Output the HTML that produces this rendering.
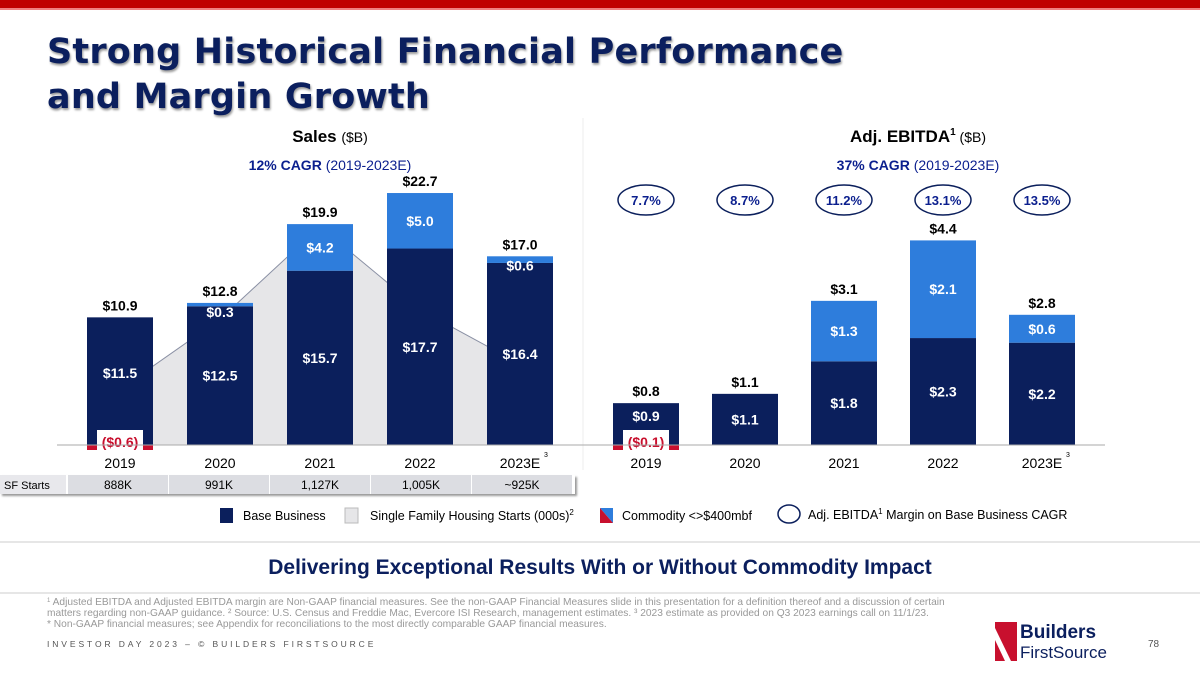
<!DOCTYPE html>
<html><head><meta charset="utf-8"><style>
body{margin:0;width:1200px;height:675px;overflow:hidden;background:#fff;font-family:"Liberation Sans",Arial,sans-serif;position:relative}
.t{position:absolute}
</style></head><body>
<div class="t" style="left:0;top:0;width:1200px;height:8px;background:#c00000;border-bottom:2px solid #f08080"></div>
<div class="t" style="left:47px;top:30px;font-family:'DejaVu Sans',sans-serif;font-size:35px;font-weight:bold;color:#0b1f5e;line-height:45px;text-shadow:1px 2px 2px #999;letter-spacing:0.2px">Strong Historical Financial Performance<br>and Margin Growth</div>
<svg class="t" style="left:0;top:0" width="1200" height="675" id="c">
<line x1="583" y1="118" x2="583" y2="470" stroke="#eee"/>
<text x="330" y="142" text-anchor="middle" font-size="17" font-weight="bold">Sales <tspan font-weight="normal" font-size="14">($B)</tspan></text>
<text x="330" y="170" text-anchor="middle" font-size="14" fill="#0b1f8e"><tspan font-weight="bold">12% CAGR</tspan> (2019-2023E)</text>
<text x="918" y="142" text-anchor="middle" font-size="17" font-weight="bold">Adj. EBITDA<tspan font-size="10" dy="-7">1</tspan><tspan dy="7" font-weight="normal" font-size="14"> ($B)</tspan></text>
<text x="918" y="170" text-anchor="middle" font-size="14" fill="#0b1f8e"><tspan font-weight="bold">37% CAGR</tspan> (2019-2023E)</text>
<g id="left"></g><g id="right"></g>
<line x1="0" y1="542" x2="1200" y2="542" stroke="#ccc"/>
<line x1="0" y1="593" x2="1200" y2="593" stroke="#ccc"/>
<g font-size="12.5">
<rect x="220" y="508" width="13" height="15" fill="#0b1f5c"/><text x="243" y="520">Base Business</text>
<rect x="345" y="508" width="13" height="15" fill="#e6e6e8" stroke="#bbb"/><text x="370" y="520">Single Family Housing Starts (000s)<tspan font-size="8" dy="-5">2</tspan></text>
<polygon points="600,508 613,508 613,523" fill="#2e7ddc"/><polygon points="600,508 613,523 600,523" fill="#c8102e"/><text x="622" y="520">Commodity &lt;&gt;$400mbf</text>
<ellipse cx="789" cy="514" rx="11" ry="9" fill="none" stroke="#0b1f5c" stroke-width="1.5"/><text x="808" y="519">Adj. EBITDA<tspan font-size="8" dy="-5">1</tspan><tspan dy="5"> Margin on Base Business CAGR</tspan></text>
</g>
<text x="600" y="574" text-anchor="middle" font-size="21" font-weight="bold" fill="#0b1f5e">Delivering Exceptional Results With or Without Commodity Impact</text>
<g font-size="10.2" fill="#999">
<text x="47" y="605"><tspan font-size="6" dy="-3">1</tspan><tspan dy="3"> Adjusted EBITDA and Adjusted EBITDA margin are Non-GAAP financial measures. See the non-GAAP Financial Measures slide in this presentation for a definition thereof and a discussion of certain</tspan></text>
<text x="47" y="616">matters regarding non-GAAP guidance. ² Source: U.S. Census and Freddie Mac, Evercore ISI Research, management estimates. ³ 2023 estimate as provided on Q3 2023 earnings call on 11/1/23.</text>
<text x="47" y="627">* Non-GAAP financial measures; see Appendix for reconciliations to the most directly comparable GAAP financial measures.</text>
</g>
<text x="47" y="647" font-size="8.5" fill="#555" letter-spacing="2.9">INVESTOR DAY 2023 – © BUILDERS FIRSTSOURCE</text>
<g>
<polygon points="995,622 1017,622 1017,661 995,661" fill="#c8102e"/><polygon points="995,628 1011,661 1005,661 995,640" fill="#fff"/>
<text x="1020" y="638" font-size="19" font-weight="bold" fill="#0b1f5e">Builders</text>
<text x="1020" y="658" font-size="17" fill="#0b1f5e">FirstSource</text>
</g>
<text x="1148" y="647" font-size="10" fill="#555">78</text>
</svg>
<div class="t" style="left:0;top:475px;width:575px;height:19px;box-shadow:2px 2px 2px #999"></div>
<script>
const years=["2019","2020","2021","2022","2023E"];
const salesBase=[11.5,12.5,15.7,17.7,16.4];
const salesComm=[-0.6,0.3,4.2,5.0,0.6];
const salesTotal=["$10.9","$12.8","$19.9","$22.7","$17.0"];
const sfStarts=[888,991,1127,1005,925];
const sfLabels=["888K","991K","1,127K","1,005K","~925K"];
const ebitdaBase=[0.9,1.1,1.8,2.3,2.2];
const ebitdaComm=[-0.1,0,1.3,2.1,0.6];
const ebitdaTotal=["$0.8","$1.1","$3.1","$4.4","$2.8"];
const margins=["7.7%","8.7%","11.2%","13.1%","13.5%"];
const NS="http://www.w3.org/2000/svg";
function mk(p,t,a,txt){const e=document.createElementNS(NS,t);for(const k in a)e.setAttribute(k,a[k]);if(txt!==undefined)e.textContent=txt;p.appendChild(e);return e;}
const fmt=v=>v<0?"($"+(-v).toFixed(1)+")":"$"+v.toFixed(1);
const BL=445;
const L=document.getElementById('left');
const lx=i=>87+i*100, ly=v=>BL-v*11.1, sy=v=>BL-(v-806)*0.68;
let pts=`${lx(0)+33},${BL} `+sfStarts.map((v,i)=>`${lx(i)+33},${sy(v)}`).join(' ')+` ${lx(4)+33},${BL}`;
let a=mk(L,'polygon',{points:pts,fill:'#e6e6e8'});


let ln=mk(L,'polyline',{points:sfStarts.map((v,i)=>`${lx(i)+33},${sy(v)}`).join(' '),fill:'none',stroke:'#8a90a4','stroke-width':1});


function chart(G,xf,yf,base,comm,tot,w,tag){
 base.forEach((b,i)=>{
  const x=xf(i),c=comm[i];
  let r=mk(G,'rect',{x:x,y:yf(b),width:w,height:BL-yf(b),fill:'#0b1f5c'});
  
  
  let top=yf(b);
  if(c>0){let r2=mk(G,'rect',{x:x,y:yf(b+c),width:w,height:yf(b)-yf(b+c),fill:'#2e7ddc'});
   
   top=yf(b+c);}
  if(c<0){let r3=mk(G,'rect',{x:x,y:BL,width:w,height:Math.max(5,yf(0)-yf(c)),fill:'#c8102e'});
   
   
   mk(G,'rect',{x:x+10,y:BL-15,width:w-20,height:22,fill:'#fff'});
   let t=mk(G,'text',{x:x+w/2,y:BL+2,'text-anchor':'middle','font-size':14,'font-weight':'bold',fill:'#c8102e'},fmt(c));
   
   }
  if(c>0){let t=mk(G,'text',{x:x+w/2,y:Math.max((yf(b)+yf(b+c))/2+5,yf(b+c)+14),'text-anchor':'middle','font-size':14,'font-weight':'bold',fill:'#fff'},fmt(c));
   
   }
  let bt=mk(G,'text',{x:x+w/2,y:(BL+yf(b))/2+(c<0?-3:5),'text-anchor':'middle','font-size':14,'font-weight':'bold',fill:'#fff'},fmt(b));
  
  
  let tt=mk(G,'text',{x:x+w/2,y:top-7,'text-anchor':'middle','font-size':14,'font-weight':'bold'},tot[i]);
  
  
  let yl=mk(G,'text',{x:x+w/2,y:BL+23,'text-anchor':'middle','font-size':14},years[i]);
  
  
  if(i==4){mk(G,'text',{x:x+w/2+24,y:BL+12,'font-size':7},'3');}
 });
 let ax=mk(G,'line',{x1:xf(0)-30,y1:BL,x2:xf(4)+w+30,y2:BL,stroke:'#aaa'});
 
 
}
chart(L,lx,ly,salesBase,salesComm,salesTotal,66,'sales');
const S=document.getElementById('c');
let lab=mk(S,'rect',{x:0,y:475,width:66,height:19,fill:'#e8e8ec'});


mk(S,'text',{x:4,y:489,'font-size':11},'SF Starts');
sfLabels.forEach((s,i)=>{
 let r=mk(S,'rect',{x:68+i*101,y:475,width:100,height:19,fill:'#dcdde2'});
 
 
 mk(S,'text',{x:118+i*101,y:489,'text-anchor':'middle','font-size':12},s);
});
const R=document.getElementById('right');
const rx=i=>613+i*99, ry=v=>BL-v*46.5;
chart(R,rx,ry,ebitdaBase,ebitdaComm,ebitdaTotal,66,'ebitda');
margins.forEach((m,i)=>{
 let e=mk(R,'ellipse',{cx:rx(i)+33,cy:200,rx:28,ry:15,fill:'none',stroke:'#0b1f5c','stroke-width':1.5});
 
 
 let t=mk(R,'text',{x:rx(i)+33,y:205,'text-anchor':'middle','font-size':13,'font-weight':'bold',fill:'#0b1f8e'},m);
 
 
});
</script>
</body></html>
